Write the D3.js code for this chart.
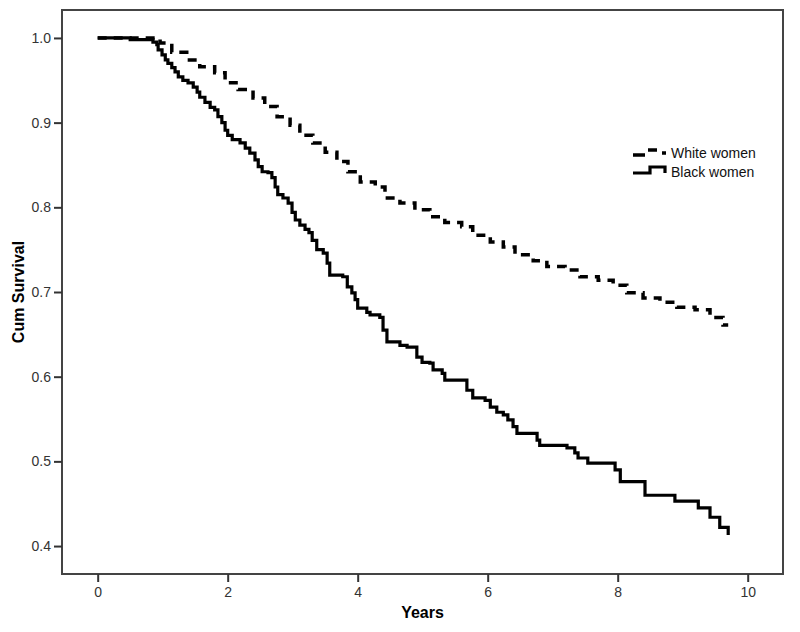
<!DOCTYPE html>
<html>
<head>
<meta charset="utf-8">
<script src="https://cdn.jsdelivr.net/npm/d3@7"></script>
<style>
  body { margin: 0; background: #fff; }
  .tick text { font-family: Arial, "Liberation Sans", sans-serif; font-size: 14px; fill: #333; }
  .tick line { stroke: #333; stroke-width: 2; }
</style>
</head>
<body>
<div id="graphDiv"></div>
<script>
// Kaplan-Meier steps: time (years) and cum survival after the event
var blackTimes = [0, 0.50, 0.85, 0.91, 0.93, 0.99, 1.04, 1.08, 1.14, 1.19, 1.24, 1.31, 1.39, 1.47, 1.53, 1.57, 1.65, 1.73, 1.80, 1.85, 1.91, 1.96, 2.00, 2.07, 2.19, 2.27, 2.34, 2.42, 2.47, 2.53, 2.62, 2.68, 2.73, 2.77, 2.85, 2.93, 2.99, 3.04, 3.11, 3.19, 3.25, 3.30, 3.37, 3.47, 3.53, 3.57, 3.77, 3.84, 3.91, 3.96, 4.00, 4.14, 4.19, 4.34, 4.39, 4.45, 4.65, 4.76, 4.91, 4.99, 5.11, 5.16, 5.30, 5.34, 5.68, 5.77, 5.96, 6.04, 6.14, 6.24, 6.31, 6.39, 6.45, 6.76, 6.80, 7.22, 7.34, 7.39, 7.54, 7.96, 8.04, 8.42, 8.88, 9.24, 9.42, 9.57, 9.70];
var blackSurv  = [1.0, 0.998, 0.995, 0.992, 0.986, 0.980, 0.974, 0.970, 0.965, 0.960, 0.954, 0.950, 0.947, 0.942, 0.936, 0.930, 0.924, 0.918, 0.915, 0.907, 0.900, 0.891, 0.885, 0.880, 0.876, 0.870, 0.864, 0.856, 0.848, 0.842, 0.841, 0.835, 0.824, 0.815, 0.811, 0.805, 0.794, 0.785, 0.779, 0.774, 0.770, 0.761, 0.750, 0.746, 0.734, 0.720, 0.718, 0.706, 0.699, 0.691, 0.681, 0.676, 0.673, 0.670, 0.655, 0.641, 0.637, 0.635, 0.623, 0.617, 0.616, 0.608, 0.604, 0.596, 0.584, 0.575, 0.572, 0.564, 0.558, 0.555, 0.549, 0.541, 0.533, 0.525, 0.519, 0.516, 0.510, 0.504, 0.498, 0.490, 0.476, 0.460, 0.453, 0.445, 0.434, 0.422, 0.413];

var whiteTimes = [0, 0.96, 1.14, 1.37, 1.57, 1.80, 1.96, 2.16, 2.39, 2.57, 2.76, 2.96, 3.11, 3.31, 3.50, 3.68, 3.85, 4.04, 4.27, 4.42, 4.65, 4.88, 5.11, 5.34, 5.60, 5.77, 6.04, 6.24, 6.42, 6.70, 6.91, 7.19, 7.42, 7.70, 7.93, 8.14, 8.39, 8.65, 8.91, 9.19, 9.42, 9.62, 9.70];
var whiteSurv  = [1.0, 0.994, 0.983, 0.974, 0.966, 0.959, 0.947, 0.939, 0.929, 0.919, 0.907, 0.897, 0.885, 0.876, 0.865, 0.854, 0.842, 0.830, 0.824, 0.811, 0.805, 0.797, 0.789, 0.782, 0.777, 0.767, 0.759, 0.753, 0.744, 0.737, 0.730, 0.726, 0.718, 0.714, 0.708, 0.699, 0.693, 0.688, 0.682, 0.679, 0.670, 0.661, 0.661];

var xTicks = [0, 2, 4, 6, 8, 10];
var yTicks = [0.4, 0.5, 0.6, 0.7, 0.8, 0.9, 1.0];
var seriesNames = ["White women", "Black women"];

// plot box in pixels
var box = {left: 62, right: 783, top: 10, bottom: 574};
var W = 800, H = 632;

var svg = d3.select("#graphDiv")
  .append("svg")
  .attr("width", W)
  .attr("height", H);

var x = d3.scaleLinear().domain([-0.549, 10.543]).range([box.left, box.right]);
var y = d3.scaleLinear().domain([0.367, 1.033]).range([box.bottom, box.top]);

// frame
svg.append("rect")
  .attr("x", box.left).attr("y", box.top)
  .attr("width", box.right - box.left).attr("height", box.bottom - box.top)
  .attr("fill", "none").attr("stroke", "#444").attr("stroke-width", 2);

// axes
var gx = svg.append("g")
  .attr("transform", "translate(0," + box.bottom + ")")
  .call(d3.axisBottom(x).tickValues(xTicks).tickSize(8).tickPadding(5).tickFormat(d3.format("d")));
gx.select(".domain").remove();

var gy = svg.append("g")
  .attr("transform", "translate(" + box.left + ",0)")
  .call(d3.axisLeft(y).tickValues(yTicks).tickSize(8).tickPadding(3).tickFormat(d3.format(".1f")));
gy.select(".domain").remove();

// axis titles
svg.append("text")
  .attr("x", (box.left + box.right) / 2).attr("y", 618)
  .attr("text-anchor", "middle")
  .style("font-family", "Arial, 'Liberation Sans', sans-serif")
  .style("font-size", "16px").style("font-weight", "bold")
  .text("Years");

svg.append("text")
  .attr("transform", "translate(24," + (box.top + box.bottom) / 2 + ")rotate(-90)")
  .attr("text-anchor", "middle")
  .style("font-family", "Arial, 'Liberation Sans', sans-serif")
  .style("font-size", "16px").style("font-weight", "bold")
  .text("Cum Survival");

// curves
var line = d3.line()
  .x(function(d) { return x(d[0]); })
  .y(function(d) { return y(d[1]); })
  .curve(d3.curveStepAfter);

svg.append("path")
  .datum(d3.zip(whiteTimes, whiteSurv))
  .attr("d", line)
  .attr("fill", "none")
  .attr("stroke", "#000")
  .attr("stroke-width", 3.5)
  .attr("stroke-dasharray", "9,7");

svg.append("path")
  .datum(d3.zip(blackTimes, blackSurv))
  .attr("d", line)
  .attr("fill", "none")
  .attr("stroke", "#000")
  .attr("stroke-width", 3.2);

// legend
var lg = svg.append("g");
lg.append("path")
  .attr("d", "M633,155H645M648,150H657M662,153H666")
  .attr("fill", "none").attr("stroke", "#000").attr("stroke-width", 3.5);
lg.append("path")
  .attr("d", "M633,173H650V167H665V173")
  .attr("fill", "none").attr("stroke", "#000").attr("stroke-width", 3.2);

lg.selectAll("text.leg")
  .data(seriesNames)
  .enter()
  .append("text")
  .attr("class", "leg")
  .attr("x", 671)
  .attr("y", function(d, i) { return 158 + i * 19; })
  .style("font-family", "Arial, 'Liberation Sans', sans-serif")
  .style("font-size", "14px")
  .style("fill", "#111")
  .text(function(d) { return d; });
</script>
</body>
</html>
